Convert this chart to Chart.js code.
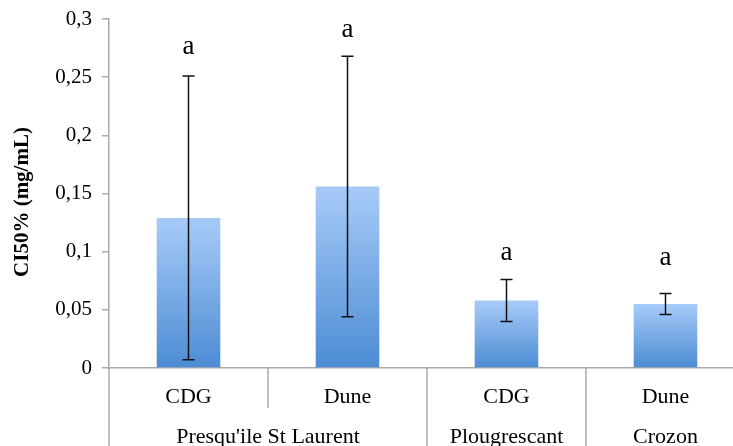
<!DOCTYPE html>
<html>
<head>
<meta charset="utf-8">
<script src="https://cdn.jsdelivr.net/npm/chart.js@4"></script>
<style>
  html, body { margin: 0; padding: 0; background: #fff; overflow: hidden; }
  #wrap { position: relative; width: 750px; height: 446px; }
</style>
</head>
<body>
<div id="wrap"><canvas id="chart"></canvas></div>
<script>
// donnees
const sites = ['CDG', 'Dune', 'CDG', 'Dune'];
const groups = ["Presqu'ile St Laurent", 'Plougrescant', 'Crozon'];
const groupSpans = [2, 1, 1];
const ci50 = [0.129, 0.156, 0.058, 0.055];
const ecart = [0.122, 0.112, 0.018, 0.009];
const lettres = ['a', 'a', 'a', 'a'];
const lettreY = [0.276, 0.291, 0.099, 0.095];
const yTicks = [0, 0.05, 0.1, 0.15, 0.2, 0.25, 0.3];

const SERIF = '"Liberation Serif", "Times New Roman", serif';
const GRIS = '#ababab';

function fmt(v) {
  return String(Math.round(v * 100) / 100).replace('.', ',');
}

// degrade bleu par barre
function barGradient(context) {
  const chart = context.chart;
  if (!chart.chartArea || context.dataIndex === undefined) return '#7aaee8';
  const y = chart.scales.y;
  const top = y.getPixelForValue(ci50[context.dataIndex]);
  const bottom = y.getPixelForValue(0);
  const g = chart.ctx.createLinearGradient(0, top, 0, bottom);
  g.addColorStop(0, '#a7cbf8');
  g.addColorStop(1, '#4c8cd4');
  return g;
}

// barres d'erreur + lettres + axe x a deux niveaux
const extras = {
  id: 'extras',
  afterDatasetsDraw(chart) {
    const ctx = chart.ctx;
    const y = chart.scales.y;
    const meta = chart.getDatasetMeta(0);
    ctx.save();
    ctx.strokeStyle = '#111';
    ctx.lineWidth = 1.5;
    meta.data.forEach((bar, i) => {
      const hi = y.getPixelForValue(ci50[i] + ecart[i]);
      const lo = y.getPixelForValue(ci50[i] - ecart[i]);
      ctx.beginPath();
      ctx.moveTo(bar.x, hi); ctx.lineTo(bar.x, lo);
      ctx.moveTo(bar.x - 6, hi); ctx.lineTo(bar.x + 6, hi);
      ctx.moveTo(bar.x - 6, lo); ctx.lineTo(bar.x + 6, lo);
      ctx.stroke();
      ctx.fillStyle = '#000';
      ctx.font = '27px ' + SERIF;
      ctx.textAlign = 'center';
      ctx.textBaseline = 'middle';
      ctx.fillText(lettres[i], bar.x, y.getPixelForValue(lettreY[i]));
    });
    ctx.restore();
  },
  afterDraw(chart) {
    const ctx = chart.ctx;
    const x = chart.scales.x;
    const area = chart.chartArea;
    const H = chart.height;
    const half = (x.getPixelForValue(1) - x.getPixelForValue(0)) / 2;
    ctx.save();
    ctx.strokeStyle = GRIS;
    ctx.lineWidth = 1.5;
    // prolongement de l'axe y
    ctx.beginPath();
    ctx.moveTo(area.left, area.bottom); ctx.lineTo(area.left, H);
    ctx.stroke();
    // separateurs
    let idx = 0;
    groupSpans.forEach((span, g) => {
      for (let k = 1; k < span; k++) {
        const sx = x.getPixelForValue(idx + k) - half;
        ctx.beginPath();
        ctx.moveTo(sx, area.bottom); ctx.lineTo(sx, area.bottom + 40);
        ctx.stroke();
      }
      if (g > 0) {
        const sx = x.getPixelForValue(idx) - half;
        ctx.beginPath();
        ctx.moveTo(sx, area.bottom); ctx.lineTo(sx, H);
        ctx.stroke();
      }
      idx += span;
    });
    ctx.fillStyle = '#000';
    ctx.font = '22px ' + SERIF;
    ctx.textAlign = 'center';
    ctx.textBaseline = 'middle';
    sites.forEach((s, i) => {
      ctx.fillText(s, x.getPixelForValue(i), area.bottom + 29);
    });
    idx = 0;
    groups.forEach((g, i) => {
      const c = (x.getPixelForValue(idx) + x.getPixelForValue(idx + groupSpans[i] - 1)) / 2;
      ctx.fillText(g, c, area.bottom + 69);
      idx += groupSpans[i];
    });
    // titre axe y
    ctx.translate(23, 202);
    ctx.rotate(-Math.PI / 2);
    ctx.font = 'bold 21px ' + SERIF;
    ctx.fillText('CI50% (mg/mL)', 0, 0);
    ctx.restore();
  }
};

new Chart(document.getElementById('chart'), {
  type: 'bar',
  data: {
    labels: sites,
    datasets: [{
      data: ci50,
      backgroundColor: barGradient,
      borderWidth: 0,
      barPercentage: 0.4,
      categoryPercentage: 1
    }]
  },
  options: {
    responsive: true,
    maintainAspectRatio: false,
    animation: false,
    layout: { padding: { top: 19, right: 5, left: 0, bottom: 0 } },
    plugins: {
      legend: { display: false },
      tooltip: { enabled: false }
    },
    scales: {
      x: {
        grid: { display: false },
        border: { display: true, color: GRIS, width: 1.5 },
        ticks: { display: false },
        afterFit(scale) { scale.height = 78; }
      },
      y: {
        min: 0,
        max: 0.3,
        afterBuildTicks(scale) { scale.ticks = yTicks.map(v => ({ value: v })); },
        grid: { drawOnChartArea: false, drawTicks: true, tickLength: 7, color: GRIS, lineWidth: 1.5 },
        border: { display: true, color: GRIS, width: 1.5 },
        ticks: {
          padding: 10,
          color: '#000',
          font: { family: SERIF, size: 21 },
          callback: v => fmt(v)
        },
        afterFit(scale) {
          scale.width = 109;
          scale.paddingTop = 0;
          scale.paddingBottom = 0;
        }
      }
    }
  },
  plugins: [extras]
});
</script>
</body>
</html>
